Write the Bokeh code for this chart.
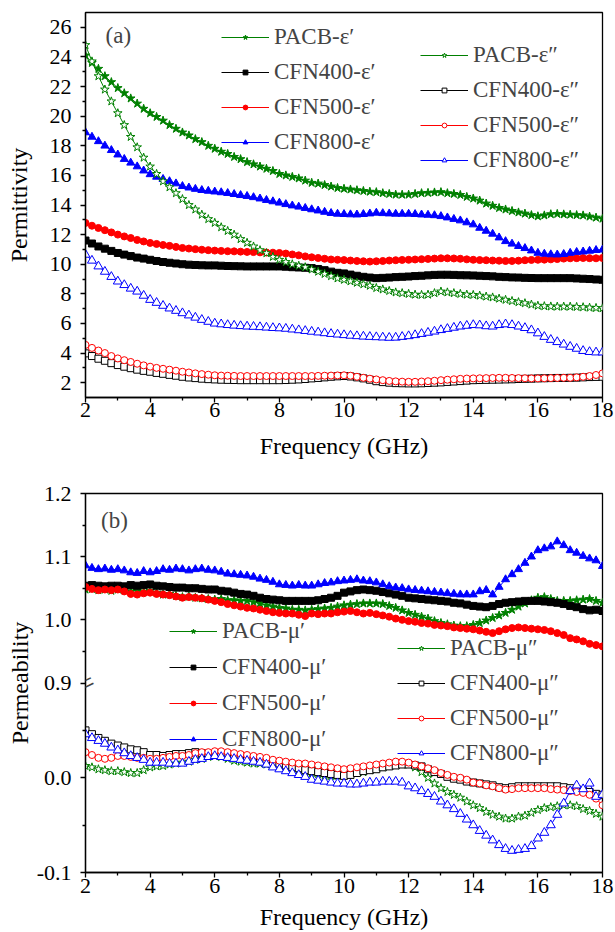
import numpy as np
from bokeh.plotting import figure
from bokeh.models import (Range1d, FixedTicker, Legend, LegendItem, Label,
                          CustomJSTickFormatter)
from bokeh.layouts import column
from bokeh.embed import file_html
from bokeh.resources import INLINE

# ---------------- data ----------------
freq = [round(2 + 0.2 * i, 1) for i in range(81)]  # GHz

# panel (a) permittivity
pacb_e1 = [24.1, 23.6, 23.2, 22.7, 22.3, 21.9, 21.55, 21.2, 20.85, 20.5,
           20.2, 19.95, 19.7, 19.4, 19.15, 18.9, 18.7, 18.45, 18.25, 18.0,
           17.8, 17.6, 17.45, 17.25, 17.1, 16.9, 16.75, 16.6, 16.45, 16.3,
           16.1, 16.0, 15.9, 15.8, 15.65, 15.5, 15.45, 15.35, 15.25, 15.15,
           15.1, 15.05, 15.0, 14.95, 14.9, 14.87, 14.8, 14.75, 14.7, 14.7,
           14.7, 14.75, 14.8, 14.82, 14.85, 14.87, 14.8, 14.75, 14.68, 14.55,
           14.44, 14.3, 14.1, 13.95, 13.8, 13.7, 13.6, 13.5, 13.42, 13.32,
           13.24, 13.3, 13.38, 13.4, 13.37, 13.35, 13.32, 13.3, 13.22, 13.15,
           13.08]
pacb_e2 = [24.8, 23.7, 22.7, 21.8, 21.0, 20.2, 19.4, 18.6, 17.9, 17.2,
           16.6, 16.1, 15.6, 15.2, 14.8, 14.4, 14.0, 13.7, 13.35, 13.05,
           12.8, 12.5, 12.25, 12.0, 11.7, 11.45, 11.2, 10.95, 10.75, 10.5,
           10.3, 10.15, 10.0, 9.9, 9.8, 9.65, 9.5, 9.35, 9.2, 9.05,
           8.95, 8.85, 8.75, 8.65, 8.55, 8.4, 8.3, 8.2, 8.1, 8.05,
           8.0, 7.95, 7.93, 7.95, 8.05, 8.16, 8.1, 8.05, 8.0, 7.95,
           7.93, 7.88, 7.82, 7.76, 7.68, 7.6, 7.52, 7.44, 7.37, 7.28,
           7.2, 7.17, 7.15, 7.14, 7.14, 7.14, 7.12, 7.1, 7.07, 7.05,
           7.03]
cfn400_e1 = [11.6, 11.4, 11.2, 11.05, 10.9, 10.76, 10.65, 10.55, 10.45, 10.38,
             10.3, 10.22, 10.15, 10.1, 10.05, 10.0, 9.97, 9.95, 9.93, 9.92,
             9.92, 9.9, 9.88, 9.87, 9.86, 9.85, 9.85, 9.85, 9.85, 9.85,
             9.85, 9.83, 9.8, 9.78, 9.76, 9.74, 9.68, 9.6, 9.5, 9.42,
             9.38, 9.3, 9.22, 9.15, 9.1, 9.06, 9.08, 9.1, 9.13, 9.15,
             9.17, 9.2, 9.22, 9.25, 9.28, 9.29, 9.29, 9.28, 9.26, 9.25,
             9.24, 9.22, 9.2, 9.18, 9.15, 9.13, 9.11, 9.1, 9.08, 9.07,
             9.06, 9.06, 9.06, 9.06, 9.06, 9.06, 9.04, 9.02, 9.0, 8.97,
             8.95]
cfn400_e2 = [3.98, 3.8, 3.62, 3.48, 3.32, 3.19, 3.08, 2.98, 2.88, 2.8,
             2.74, 2.66, 2.6, 2.53, 2.47, 2.4, 2.35, 2.31, 2.27, 2.24,
             2.22, 2.2, 2.19, 2.18, 2.17, 2.17, 2.17, 2.17, 2.17, 2.17,
             2.17, 2.18, 2.2, 2.22, 2.25, 2.29, 2.32, 2.36, 2.4, 2.43,
             2.45, 2.42, 2.36, 2.29, 2.2, 2.1, 2.04, 2.0, 1.97, 1.96,
             1.95, 1.95, 1.96, 1.98, 2.0, 2.02, 2.05, 2.08, 2.11, 2.14,
             2.17, 2.18, 2.19, 2.2, 2.21, 2.22, 2.23, 2.25, 2.26, 2.27,
             2.29, 2.3, 2.31, 2.32, 2.32, 2.33, 2.34, 2.36, 2.38, 2.39,
             2.4]
cfn500_e1 = [12.79, 12.6, 12.45, 12.3, 12.15, 12.0, 11.88, 11.77, 11.64, 11.54,
             11.44, 11.37, 11.3, 11.24, 11.17, 11.1, 11.06, 11.02, 10.98, 10.95,
             10.92, 10.9, 10.88, 10.87, 10.85, 10.83, 10.82, 10.8, 10.79, 10.78,
             10.76, 10.72, 10.66, 10.6, 10.53, 10.47, 10.42, 10.37, 10.32, 10.3,
             10.28, 10.25, 10.22, 10.2, 10.18, 10.2, 10.22, 10.25, 10.27, 10.29,
             10.3, 10.32, 10.34, 10.36, 10.38, 10.4, 10.4, 10.39, 10.37, 10.33,
             10.3, 10.28, 10.27, 10.25, 10.24, 10.22, 10.22, 10.24, 10.27, 10.29,
             10.3, 10.31, 10.33, 10.35, 10.38, 10.4, 10.41, 10.42, 10.41, 10.4,
             10.42]
cfn500_e2 = [4.55, 4.35, 4.17, 4.0, 3.8, 3.64, 3.52, 3.4, 3.28, 3.17,
             3.08, 3.0, 2.94, 2.88, 2.81, 2.74, 2.69, 2.63, 2.58, 2.54,
             2.5, 2.48, 2.47, 2.46, 2.45, 2.45, 2.45, 2.45, 2.45, 2.45,
             2.45, 2.45, 2.45, 2.45, 2.45, 2.45, 2.46, 2.47, 2.48, 2.49,
             2.5, 2.47, 2.4, 2.33, 2.27, 2.22, 2.17, 2.12, 2.09, 2.07,
             2.06, 2.06, 2.08, 2.1, 2.13, 2.17, 2.2, 2.23, 2.26, 2.28,
             2.29, 2.3, 2.31, 2.32, 2.33, 2.33, 2.32, 2.31, 2.3, 2.29,
             2.29, 2.3, 2.31, 2.32, 2.33, 2.33, 2.36, 2.4, 2.45, 2.52,
             2.63]
cfn800_e1 = [18.9, 18.6, 18.3, 18.0, 17.7, 17.4, 17.1, 16.85, 16.6, 16.32,
             16.07, 15.9, 15.75, 15.6, 15.45, 15.27, 15.17, 15.08, 15.0, 14.95,
             14.9, 14.85, 14.8, 14.73, 14.66, 14.6, 14.52, 14.43, 14.33, 14.24,
             14.15, 14.05, 13.96, 13.88, 13.79, 13.7, 13.62, 13.53, 13.45, 13.4,
             13.38, 13.36, 13.35, 13.38, 13.42, 13.47, 13.44, 13.42, 13.4, 13.4,
             13.4, 13.38, 13.35, 13.33, 13.3, 13.24, 13.15, 13.05, 12.95, 12.82,
             12.68, 12.45, 12.25, 12.05, 11.8, 11.55, 11.38, 11.22, 11.08, 10.92,
             10.76, 10.7, 10.66, 10.65, 10.68, 10.76, 10.82, 10.85, 10.9, 10.95,
             10.98]
cfn800_e2 = [10.65, 10.25, 9.86, 9.5, 9.15, 8.84, 8.6, 8.36, 8.16, 7.88,
             7.6, 7.4, 7.2, 7.02, 6.86, 6.7, 6.55, 6.4, 6.25, 6.12,
             6.0, 5.95, 5.9, 5.86, 5.83, 5.8, 5.78, 5.76, 5.73, 5.7,
             5.68, 5.65, 5.6, 5.55, 5.5, 5.45, 5.4, 5.35, 5.3, 5.26,
             5.22, 5.18, 5.15, 5.12, 5.1, 5.08, 5.06, 5.04, 5.05, 5.1,
             5.15, 5.22, 5.3, 5.38, 5.46, 5.56, 5.64, 5.72, 5.8, 5.85,
             5.9, 5.88, 5.82, 5.8, 5.9, 5.95, 5.9, 5.8, 5.7, 5.55,
             5.34, 5.1, 4.9, 4.75, 4.58, 4.43, 4.3, 4.15, 4.08, 4.05,
             4.05]

# panel (b) permeability
pacb_u1 = [1.048, 1.049, 1.047, 1.048, 1.046, 1.048, 1.047, 1.045, 1.046, 1.044,
           1.046, 1.043, 1.040, 1.041, 1.038, 1.036, 1.037, 1.035, 1.034, 1.033,
           1.032, 1.033, 1.031, 1.031, 1.030, 1.030, 1.028, 1.026, 1.023, 1.021,
           1.019, 1.018, 1.016, 1.016, 1.015, 1.016, 1.017, 1.018, 1.019, 1.021,
           1.023, 1.024, 1.025, 1.026, 1.026, 1.026, 1.025, 1.022, 1.019, 1.015,
           1.011, 1.008, 1.005, 1.002, 0.998, 0.995, 0.993, 0.991, 0.990, 0.990,
           0.992, 0.995, 0.999, 1.003, 1.007, 1.011, 1.016, 1.021, 1.026, 1.031,
           1.035, 1.036, 1.033, 1.030, 1.030, 1.030, 1.031, 1.032, 1.033, 1.030,
           1.027]
cfn400_u1 = [1.054, 1.055, 1.054, 1.053, 1.054, 1.054, 1.053, 1.055, 1.054, 1.055,
             1.056, 1.054, 1.053, 1.052, 1.051, 1.051, 1.050, 1.050, 1.049, 1.048,
             1.048, 1.046, 1.045, 1.043, 1.041, 1.040, 1.038, 1.035, 1.033, 1.032,
             1.031, 1.030, 1.030, 1.030, 1.030, 1.030, 1.031, 1.033, 1.035, 1.038,
             1.043, 1.045, 1.047, 1.048, 1.047, 1.046, 1.044, 1.042, 1.040, 1.038,
             1.035, 1.034, 1.033, 1.032, 1.031, 1.030, 1.029, 1.027, 1.026, 1.024,
             1.022, 1.021, 1.020, 1.022, 1.025, 1.027, 1.028, 1.029, 1.030, 1.030,
             1.030, 1.029, 1.028, 1.027, 1.025, 1.022, 1.020, 1.017, 1.015, 1.016,
             1.014]
cfn500_u1 = [1.052, 1.049, 1.047, 1.048, 1.047, 1.048, 1.045, 1.041, 1.040, 1.042,
             1.043, 1.041, 1.040, 1.039, 1.037, 1.035, 1.036, 1.035, 1.034, 1.032,
             1.030, 1.028, 1.025, 1.023, 1.021, 1.019, 1.018, 1.016, 1.014, 1.012,
             1.011, 1.010, 1.010, 1.008, 1.006, 1.010, 1.009, 1.010, 1.010, 1.012,
             1.013, 1.014, 1.012, 1.010, 1.011, 1.009, 1.007, 1.005, 1.002, 1.000,
             0.998, 0.997, 0.995, 0.994, 0.992, 0.991, 0.990, 0.988, 0.987, 0.986,
             0.985, 0.983, 0.981, 0.979, 0.982, 0.985, 0.987, 0.988, 0.987, 0.986,
             0.985, 0.984, 0.982, 0.979, 0.976, 0.971, 0.969, 0.966, 0.962, 0.960,
             0.958]
cfn800_u1 = [1.086, 1.082, 1.080, 1.081, 1.079, 1.080, 1.078, 1.075, 1.074, 1.077,
             1.075, 1.077, 1.080, 1.079, 1.081, 1.080, 1.078, 1.080, 1.081, 1.079,
             1.078, 1.076, 1.073, 1.072, 1.071, 1.070, 1.068, 1.065, 1.063, 1.060,
             1.056, 1.055, 1.054, 1.055, 1.054, 1.054, 1.056, 1.058, 1.059, 1.061,
             1.062, 1.063, 1.064, 1.062, 1.061, 1.059, 1.056, 1.053, 1.051, 1.050,
             1.048, 1.047, 1.046, 1.045, 1.044, 1.043, 1.042, 1.041, 1.040, 1.040,
             1.040, 1.045, 1.047, 1.040, 1.052, 1.064, 1.072, 1.080, 1.090, 1.100,
             1.110, 1.113, 1.116, 1.124, 1.118, 1.110, 1.106, 1.101, 1.097, 1.094,
             1.085]
pacb_u2 = [0.0125, 0.011, 0.009, 0.008, 0.007, 0.007, 0.006, 0.005, 0.005, 0.008,
           0.011, 0.012, 0.0125, 0.014, 0.015, 0.016, 0.017, 0.019, 0.020, 0.022,
           0.023, 0.022, 0.020, 0.018, 0.017, 0.016, 0.015, 0.015, 0.014, 0.013,
           0.0125, 0.012, 0.011, 0.009, 0.007, 0.005, 0.004, 0.002, 0.002, 0.002,
           0.003, 0.004, 0.005, 0.006, 0.008, 0.009, 0.011, 0.0125, 0.013, 0.014,
           0.014, 0.011, 0.006, 0.0, -0.006, -0.011, -0.015, -0.018, -0.021, -0.025,
           -0.029, -0.032, -0.036, -0.039, -0.041, -0.043, -0.043, -0.041, -0.040, -0.037,
           -0.034, -0.032, -0.031, -0.030, -0.029, -0.029, -0.030, -0.033, -0.035, -0.038,
           -0.041]
cfn400_u2 = [0.050, 0.046, 0.042, 0.039, 0.036, 0.034, 0.032, 0.030, 0.029, 0.027,
             0.024, 0.024, 0.023, 0.024, 0.025, 0.025, 0.026, 0.027, 0.026, 0.025,
             0.025, 0.024, 0.023, 0.023, 0.022, 0.021, 0.020, 0.019, 0.018, 0.016,
             0.015, 0.013, 0.011, 0.010, 0.008, 0.007, 0.006, 0.005, 0.004, 0.003,
             0.002, 0.003, 0.005, 0.007, 0.008, 0.009, 0.011, 0.012, 0.013, 0.014,
             0.014, 0.013, 0.012, 0.009, 0.006, 0.004, 0.001, -0.001, -0.002, -0.004,
             -0.005, -0.006, -0.007, -0.008, -0.010, -0.011, -0.010, -0.009, -0.009, -0.009,
             -0.009, -0.009, -0.009, -0.009, -0.010, -0.011, -0.012, -0.014, -0.015, -0.017,
             -0.018]
cfn500_u2 = [0.027, 0.024, 0.021, 0.020, 0.021, 0.023, 0.023, 0.022, 0.021, 0.021,
             0.020, 0.020, 0.021, 0.022, 0.023, 0.023, 0.024, 0.026, 0.027, 0.027,
             0.028, 0.028, 0.027, 0.026, 0.025, 0.024, 0.023, 0.022, 0.021, 0.019,
             0.018, 0.017, 0.016, 0.015, 0.015, 0.014, 0.013, 0.012, 0.011, 0.010,
             0.009, 0.010, 0.011, 0.012, 0.013, 0.014, 0.015, 0.016, 0.017, 0.017,
             0.016, 0.014, 0.012, 0.010, 0.008, 0.005, 0.003, 0.001, 0.0, -0.002,
             -0.005, -0.006, -0.008, -0.009, -0.011, -0.0125, -0.012, -0.011, -0.011, -0.011,
             -0.011, -0.011, -0.012, -0.0125, -0.013, -0.014, -0.015, -0.016, -0.018, -0.022,
             -0.029]
cfn800_u2 = [0.046, 0.042, 0.039, 0.036, 0.032, 0.029, 0.026, 0.023, 0.021, 0.019,
             0.016, 0.016, 0.016, 0.015, 0.015, 0.015, 0.017, 0.019, 0.020, 0.022,
             0.023, 0.022, 0.021, 0.020, 0.019, 0.018, 0.017, 0.016, 0.014, 0.011,
             0.009, 0.007, 0.005, 0.003, 0.001, -0.002, -0.003, -0.004, -0.005, -0.006,
             -0.006, -0.007, -0.007, -0.006, -0.005, -0.005, -0.004, -0.004, -0.004, -0.005,
             -0.009, -0.011, -0.014, -0.017, -0.020, -0.025, -0.029, -0.033, -0.038, -0.044,
             -0.050, -0.056, -0.061, -0.066, -0.071, -0.075, -0.077, -0.076, -0.075, -0.072,
             -0.064, -0.058, -0.050, -0.039, -0.027, -0.014, -0.008, -0.012, -0.006, -0.020,
             -0.018]

x_ticks = [2, 4, 6, 8, 10, 12, 14, 16, 18]
x_minor = [3, 5, 7, 9, 11, 13, 15, 17]
ya_ticks = [2, 4, 6, 8, 10, 12, 14, 16, 18, 20, 22, 24, 26]
ya_minor = [3, 5, 7, 9, 11, 13, 15, 17, 19, 21, 23, 25]

# broken axis of panel (b): lower part -0.1..0.1, upper part 0.9..1.2
low_start, low_end = -0.1, 0.3      # main range (lower part fills bottom half)
up_start, up_end = 0.6, 1.2         # upper range (upper part fills top half)
yb_low_ticks = [-0.1, 0.0]
yb_low_minor = [-0.05, 0.05]
yb_up_ticks = [0.9, 1.0, 1.1, 1.2]
yb_up_minor = [0.95, 1.05, 1.15]

FONT = "Liberation Serif"
GREEN, BLACK, RED, BLUE = "#008000", "#000000", "#ff0000", "#0000ff"


def style(p):
    for ax in (p.xaxis[0], p.yaxis[0]):
        ax.major_label_text_font = FONT
        ax.major_label_text_font_size = "22px"
        ax.major_label_text_color = "black"
        ax.axis_label_text_font = FONT
        ax.axis_label_text_font_size = "24px"
        ax.axis_label_text_font_style = "normal"
        ax.axis_label_text_color = "black"
        ax.major_tick_out = 5
        ax.major_tick_in = 0
        ax.minor_tick_out = 3
        ax.minor_tick_in = 0
        ax.axis_line_width = 1.3
        ax.major_tick_line_width = 1.3
        ax.minor_tick_line_width = 1.3
    p.xaxis[0].major_label_standoff = 0
    p.yaxis[0].major_label_standoff = 9
    p.grid.visible = False
    p.outline_line_color = "black"
    p.outline_line_width = 1.3
    p.outline_line_alpha = 1.0


def series(p, y, color, marker, hollow, size, label, yname="default"):
    kw = {} if yname == "default" else {"y_range_name": yname}
    ln = p.line(freq, y, line_color=color, line_width=1, **kw)
    sc = p.scatter(freq, y, marker=marker, size=size, line_color=color,
                   line_width=1, fill_color="white" if hollow else color, **kw)
    return LegendItem(label=label, renderers=[ln, sc])


def make_legend(items, loc, spacing):
    return Legend(items=items, location=loc, orientation="vertical",
                  glyph_width=48, glyph_height=12, label_height=26,
                  label_standoff=5, spacing=spacing, padding=0, margin=0,
                  border_line_alpha=0, background_fill_alpha=0,
                  label_text_font=FONT, label_text_font_size="23px")


# ---------------- panel (a) ----------------
pa = figure(width=615, height=462, x_range=Range1d(2, 18), y_range=Range1d(1, 27),
            output_backend="svg", toolbar_location=None,
            min_border_left=81, min_border_right=13, min_border_top=12,
            min_border_bottom=65)
style(pa)
pa.xaxis[0].ticker = FixedTicker(ticks=x_ticks, minor_ticks=x_minor)
pa.yaxis[0].ticker = FixedTicker(ticks=ya_ticks, minor_ticks=ya_minor)
pa.xaxis[0].axis_label = "Frequency (GHz)"
pa.yaxis[0].axis_label = "Permittivity"
pa.xaxis[0].axis_label_standoff = 13
pa.yaxis[0].axis_label_standoff = 15

la = [series(pa, pacb_e1, GREEN, "star", False, 9, "PACB-\u03b5\u2032"),
      series(pa, cfn400_e1, BLACK, "square", False, 7, "CFN400-\u03b5\u2032"),
      series(pa, cfn500_e1, RED, "circle", False, 7, "CFN500-\u03b5\u2032"),
      series(pa, cfn800_e1, BLUE, "triangle", False, 8, "CFN800-\u03b5\u2032")]
ra = [series(pa, pacb_e2, GREEN, "star", True, 9, "PACB-\u03b5\u2033"),
      series(pa, cfn400_e2, BLACK, "square", True, 7, "CFN400-\u03b5\u2033"),
      series(pa, cfn500_e2, RED, "circle", True, 7, "CFN500-\u03b5\u2033"),
      series(pa, cfn800_e2, BLUE, "triangle", True, 9, "CFN800-\u03b5\u2033")]
pa.add_layout(make_legend(la, (136, 242), 9))
pa.add_layout(make_legend(ra, (335, 224), 9))
pa.add_layout(Label(x=2.62, y=25.44, text="(a)", text_baseline="middle",
                    text_font=FONT, text_font_size="23px"))

# ---------------- panel (b) ----------------
pb = figure(width=615, height=470, x_range=Range1d(2, 18),
            y_range=Range1d(low_start, low_end),
            output_backend="svg", toolbar_location=None,
            min_border_left=85, min_border_right=12, min_border_top=31,
            min_border_bottom=59)
pb.extra_y_ranges = {"upper": Range1d(up_start, up_end)}
style(pb)


def up_to_low(v):
    return round(low_start + (v - up_start) / (up_end - up_start) * (low_end - low_start), 9)


pb.xaxis[0].ticker = FixedTicker(ticks=x_ticks, minor_ticks=x_minor)
pb.yaxis[0].ticker = FixedTicker(ticks=yb_low_ticks + [up_to_low(v) for v in yb_up_ticks],
                                 minor_ticks=yb_low_minor + [up_to_low(v) for v in yb_up_minor])
brk = up_to_low(0.9)
pb.yaxis[0].formatter = CustomJSTickFormatter(code=f"""
    if (tick < {brk} - 1e-6) return tick.toFixed(1);
    const v = {up_start} + (tick - ({low_start})) / ({low_end} - ({low_start})) * ({up_end} - {up_start});
    return v.toFixed(1);
""")
pb.xaxis[0].axis_label = "Frequency (GHz)"
pb.yaxis[0].axis_label = "Permeability"
pb.xaxis[0].major_label_standoff = 1
pb.xaxis[0].axis_label_standoff = 8
pb.yaxis[0].axis_label_standoff = 1

lb = [series(pb, pacb_u1, GREEN, "star", False, 9, "PACB-\u03bc\u2032", "upper"),
      series(pb, cfn400_u1, BLACK, "square", False, 7, "CFN400-\u03bc\u2032", "upper"),
      series(pb, cfn500_u1, RED, "circle", False, 7, "CFN500-\u03bc\u2032", "upper"),
      series(pb, cfn800_u1, BLUE, "triangle", False, 8, "CFN800-\u03bc\u2032", "upper")]
rb = [series(pb, pacb_u2, GREEN, "star", True, 9, "PACB-\u03bc\u2033"),
      series(pb, cfn400_u2, BLACK, "square", True, 7, "CFN400-\u03bc\u2033"),
      series(pb, cfn500_u2, RED, "circle", True, 7, "CFN500-\u03bc\u2033"),
      series(pb, cfn800_u2, BLUE, "triangle", True, 9, "CFN800-\u03bc\u2033")]
pb.add_layout(make_legend(lb, (84, 120), 10))
pb.add_layout(make_legend(rb, (312, 106), 9))
pb.add_layout(Label(x=2.48, y=0.2716, text="(b)", text_baseline="middle",
                    text_font=FONT, text_font_size="23px"))
pb.add_layout(Label(x=2, y=brk, text="=", text_align="center", text_baseline="middle",
                    text_font=FONT, text_font_size="30px", angle=0.45))

layout = column(pa, pb)
open("out.html", "w").write(file_html(layout, INLINE))
